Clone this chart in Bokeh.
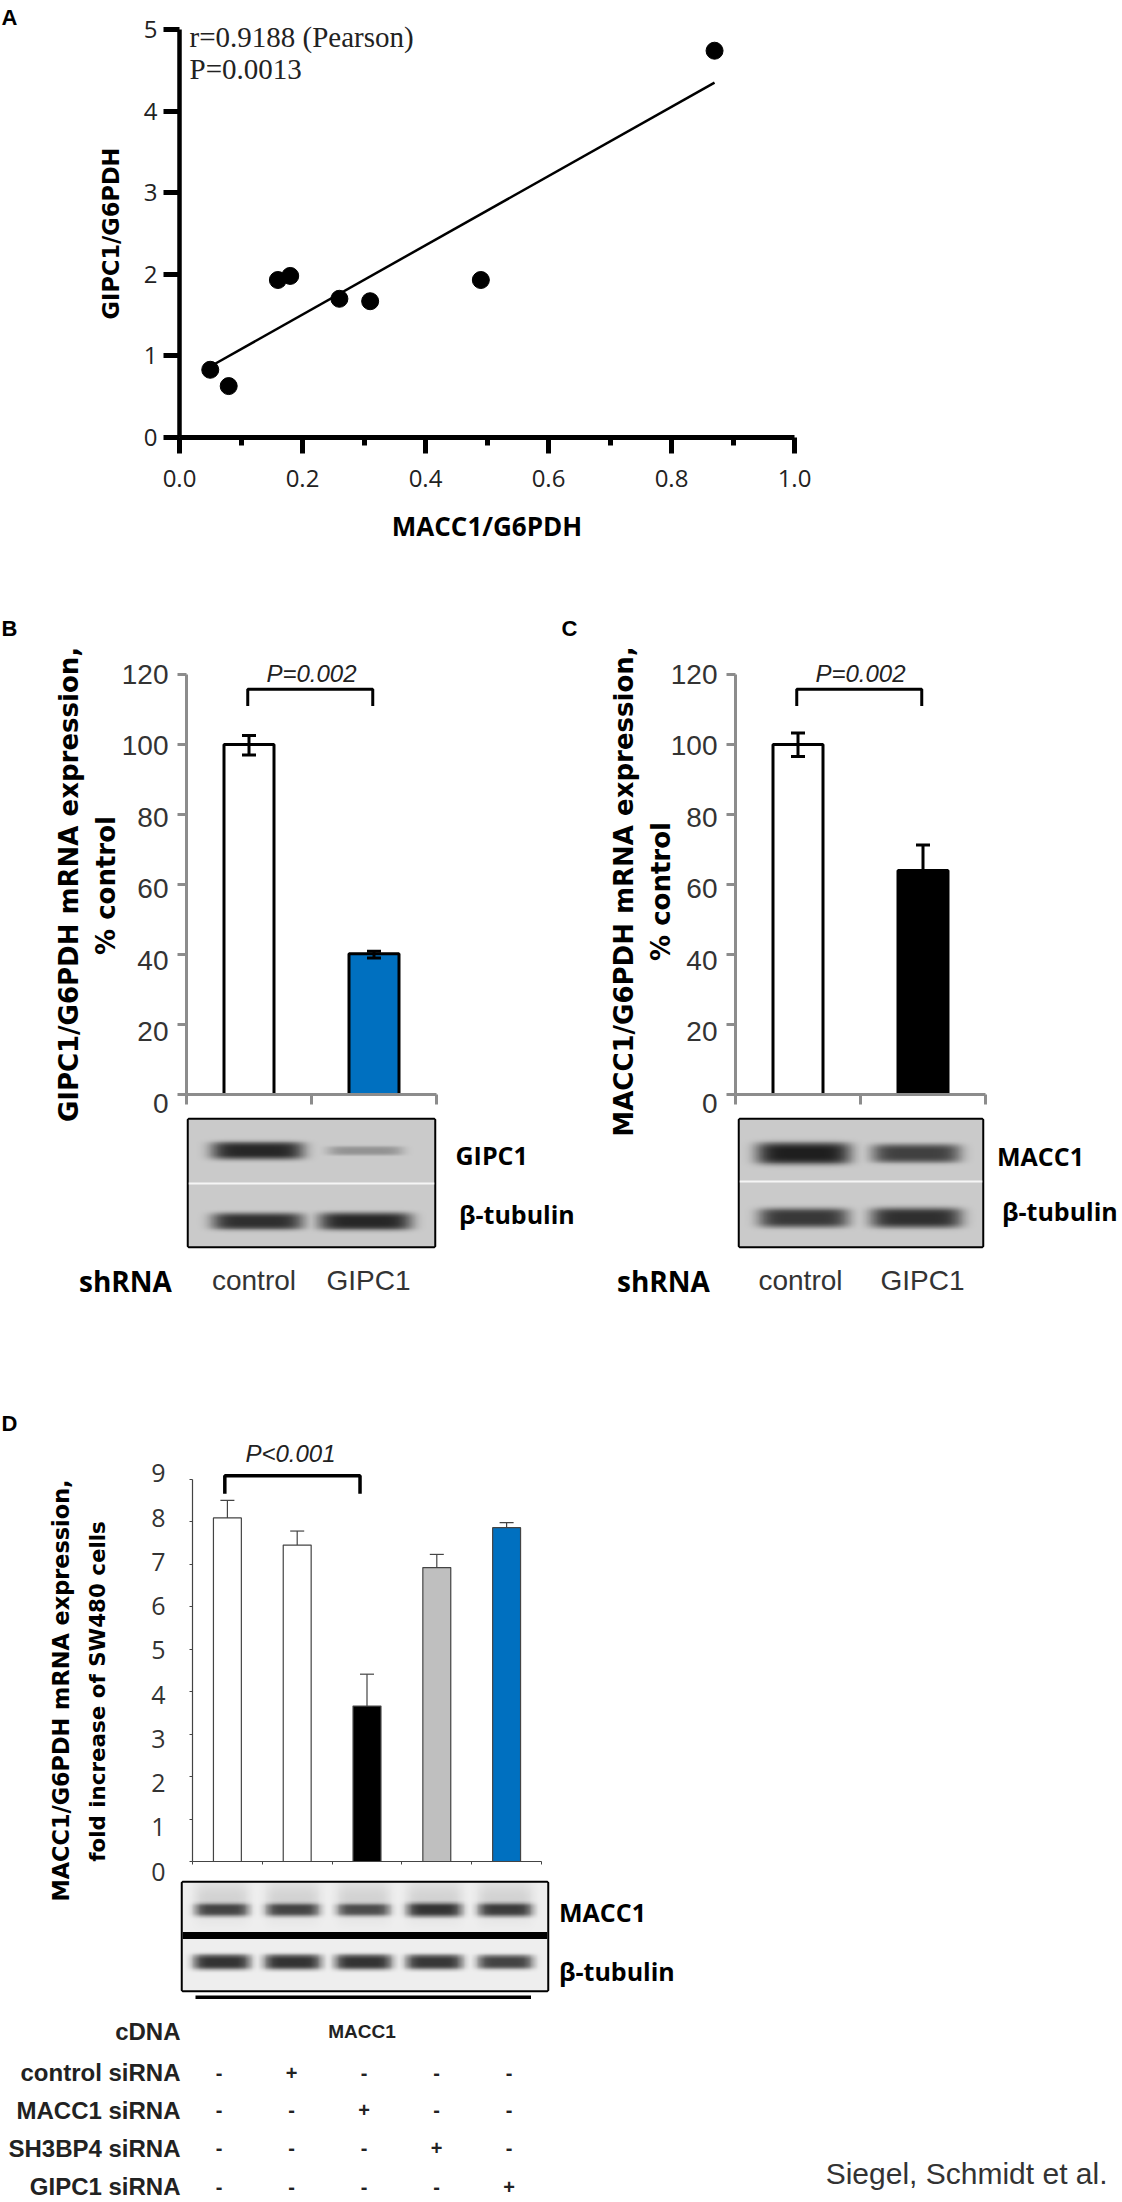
from bokeh.plotting import figure
from bokeh.layouts import column, row
from bokeh.models import Range1d, Whisker, TeeHead, ColumnDataSource, FixedTicker, LinearColorMapper, LinearAxis
from bokeh.core.properties import value
from bokeh.palettes import gray
from bokeh.embed import file_html
from bokeh.resources import INLINE
import numpy as np
import math

# panel A
macc1 = [0.05, 0.08, 0.16, 0.18, 0.26, 0.31, 0.49, 0.87]
gipc1 = [0.83, 0.63, 1.93, 1.98, 1.70, 1.67, 1.93, 4.74]
fit_x = [0.05, 0.87]
fit_y = [0.87, 4.35]

# panels B and C
pct_ticks = [0, 20, 40, 60, 80, 100, 120]
b_values = [100, 40.2]
b_upper = [102.6, 40.9]
b_lower = [97, 39]
c_values = [100, 64]
c_upper = [103.3, 71.3]
c_lower = [96.6, 64]

# panel D
fold_ticks = [0, 1, 2, 3, 4, 5, 6, 7, 8, 9]
d_values = [8.09, 7.45, 3.66, 6.92, 7.86]
d_upper = [8.5, 7.78, 4.41, 7.23, 7.98]
d_colors = ["white", "white", "black", "#bfbfbf", "#0070c0"]
row_names = ["control siRNA", "MACC1 siRNA", "SH3BP4 siRNA", "GIPC1 siRNA"]
row_marks = [
    ["-", "+", "-", "-", "-"],
    ["-", "-", "+", "-", "-"],
    ["-", "-", "-", "+", "-"],
    ["-", "-", "-", "-", "+"],
]

# band strength per lane
blot_b = [[0.95, 0.32], [0.9, 0.95]]
blot_c = [[1.0, 0.8], [0.85, 0.9]]
blot_d = [[0.72, 0.72, 0.68, 0.8, 0.76], [0.9, 0.9, 0.9, 0.88, 0.82]]

black = "black"
grey_axis = "#8c8c8c"
dark = "#444444"

# everything that is plain text sits on one see-through figure over the page,
# its scale is the picture's own pixels
over = figure(width=1122, height=2202, output_backend="svg", toolbar_location=None,
              x_range=Range1d(0, 1122), y_range=Range1d(2202, 0),
              x_axis_location=None, y_axis_location=None, frame_align=False,
              min_border_left=0, min_border_right=0, min_border_top=0, min_border_bottom=0,
              background_fill_color=None, border_fill_color=None, margin=(-1994, 0, 0, 0))
over.grid.visible = False
over.outline_line_color = None


def note(x, y, txt, size, font="Open Sans", style="bold", align="left", angle=0, color="black"):
    over.text([x], [y], text=[txt], text_font=value(font), text_font_size=f"{size}px",
              text_font_style=style, text_align=align, text_baseline="middle",
              text_color=color, angle=angle)


def label_axis(p, start, end, ticks, standoff, font, size):
    # tick labels of the original drift from their ticks, so they get their own scale
    p.extra_y_ranges["labels"] = Range1d(start, end)
    ax = LinearAxis(y_range_name="labels", ticker=FixedTicker(ticks=ticks))
    ax.axis_line_color = None
    ax.major_tick_line_color = None
    ax.minor_tick_line_color = None
    ax.major_tick_out = 0
    ax.major_tick_in = 0
    ax.major_label_standoff = standoff
    ax.major_label_text_font = font
    ax.major_label_text_font_size = size
    ax.major_label_text_color = "#333333"
    p.add_layout(ax, "left")


def blot_picture(strengths, x_start, x_end, y_start, y_end, half_w, half_h, base, halo):
    nx, ny = 420, 200
    xs = np.linspace(x_start, x_end, nx)
    ys = np.linspace(y_start, y_end, ny)
    gx, gy = np.meshgrid(xs, ys)
    bands = np.zeros((ny, nx))
    glow = np.zeros((ny, nx))
    for r, lanes in enumerate(strengths):
        for k, s in enumerate(lanes):
            across = np.exp(-((gx - k) / (half_w * (0.7 + 0.3 * s))) ** 6)
            band = across * np.exp(-((gy - r) / (half_h * (0.25 + 0.75 * s))) ** 4)
            bands = np.maximum(bands, band * s * (base - 30))
            if r == 0:
                glow = np.maximum(glow, halo * across * np.exp(-((gy - r + 0.2) / 0.35) ** 2))
    return np.clip(base - glow - bands, 0, 255)


def blot_figure(w, h, left, right, top, bottom, x_range, y_range, strengths, half_w, half_h, base=202, halo=0):
    p = figure(width=w, height=h, output_backend="svg", toolbar_location=None,
               x_range=x_range, y_range=y_range, x_axis_location=None, y_axis_location=None,
               frame_align=False,
               min_border_left=left, min_border_right=right, min_border_top=top, min_border_bottom=bottom)
    p.grid.visible = False
    p.outline_line_color = black
    p.outline_line_width = 3.5
    x0, x1 = x_range.start, x_range.end
    y0, y1 = min(y_range.start, y_range.end), max(y_range.start, y_range.end)
    img = blot_picture(strengths, x0, x1, y0, y1, half_w, half_h, base, halo)
    mapper = LinearColorMapper(palette=gray(256), low=0, high=255)
    p.image(image=[img], x=x0, y=y0, dw=x1 - x0, dh=y1 - y0, color_mapper=mapper)
    return p


def pct_figure(w, left, right, values, upper, lower, colors):
    p = figure(width=w, height=488, output_backend="svg", toolbar_location=None,
               x_range=Range1d(0, 2), y_range=Range1d(0, 120), frame_align=False,
               min_border_left=left, min_border_right=right, min_border_top=54, min_border_bottom=14)
    p.grid.visible = False
    p.outline_line_color = None
    p.xaxis.ticker = FixedTicker(ticks=[0, 1, 2])
    p.xaxis.major_label_overrides = {0: "", 1: "", 2: ""}
    p.yaxis.ticker = FixedTicker(ticks=pct_ticks)
    p.yaxis.major_label_overrides = {k: "" for k in pct_ticks}
    p.xaxis.major_label_standoff = 0
    p.yaxis.major_label_standoff = 0
    for ax in (p.xaxis, p.yaxis):
        ax.axis_line_color = grey_axis
        ax.axis_line_width = 3
        ax.major_tick_line_color = grey_axis
        ax.major_tick_line_width = 3
        ax.minor_tick_line_color = None
    p.xaxis.major_tick_in = 0
    p.xaxis.major_tick_out = 10
    p.yaxis.major_tick_in = 0
    p.yaxis.major_tick_out = 9
    label_axis(p, 2.5, 120, pct_ticks[1:], 9, "Liberation Sans", "28px")
    centres = [0.5, 1.5]
    p.vbar(x=centres, top=values, width=0.4, fill_color=colors, line_color=black, line_width=3)
    src = ColumnDataSource(dict(x=centres, up=upper, lo=lower))
    p.add_layout(Whisker(source=src, base="x", upper="up", lower="lo", dimension="height",
                         level="overlay", line_color=black, line_width=3,
                         upper_head=TeeHead(size=14, line_color=black, line_width=3),
                         lower_head=TeeHead(size=14, line_color=black, line_width=3)))
    p.line([0.49, 0.49, 1.49, 1.49], [111, 115.8, 115.8, 111], line_color=black, line_width=3)
    return p


# ---- A
a = figure(width=1106, height=612, output_backend="svg", toolbar_location=None,
           x_range=Range1d(0, 1), y_range=Range1d(0, 5), frame_align=False,
           x_axis_label="MACC1/G6PDH", y_axis_label="GIPC1/G6PDH",
           min_border_left=171, min_border_right=320, min_border_top=21, min_border_bottom=183)
a.grid.visible = False
a.outline_line_color = None
a.xaxis.ticker = FixedTicker(ticks=[0, 0.2, 0.4, 0.6, 0.8, 1.0], minor_ticks=[0.1, 0.3, 0.5, 0.7, 0.9])
a.yaxis.ticker = FixedTicker(ticks=[0, 1, 2, 3, 4, 5])
a.xaxis.major_label_overrides = {0: "0.0", 0.2: "0.2", 0.4: "0.4", 0.6: "0.6", 0.8: "0.8", 1: "1.0"}
a.xaxis.axis_line_width = 5
a.yaxis.axis_line_width = 4.5
a.xaxis.major_tick_line_width = 5
a.xaxis.major_tick_out = 16
a.xaxis.major_tick_in = 0
a.xaxis.minor_tick_line_width = 5
a.xaxis.minor_tick_out = 8
a.xaxis.minor_tick_in = 0
a.yaxis.major_tick_line_width = 5
a.yaxis.major_tick_out = 16
a.yaxis.major_tick_in = 0
a.yaxis.minor_tick_line_color = None
for ax in (a.xaxis, a.yaxis):
    ax.axis_line_color = black
    ax.major_tick_line_color = black
    ax.major_label_text_font = "Open Sans"
    ax.major_label_text_font_size = "24px"
    ax.major_label_text_color = "#222222"
    ax.axis_label_text_font_style = "bold"
    ax.axis_label_text_color = black
a.xaxis.minor_tick_line_color = black
a.xaxis.major_label_standoff = 16
a.yaxis.major_label_standoff = 6
a.xaxis.axis_label_text_font = "Open Sans"
a.xaxis.axis_label_text_font_size = "26px"
a.xaxis.axis_label_standoff = 18
a.yaxis.axis_label_text_font = "DejaVu Sans"
a.yaxis.axis_label_text_font_size = "22.5px"
a.yaxis.axis_label_standoff = 17
a.line(fit_x, fit_y, line_color=black, line_width=2.5)
a.scatter(macc1, gipc1, size=17, fill_color=black, line_color=black)
note(189, 36.5, "r=0.9188 (Pearson)", 29, "Liberation Serif", "normal", color="#222222")
note(189, 68, "P=0.0013", 29, "Liberation Serif", "normal", color="#222222")
note(1, 16.5, "A", 22, "Liberation Sans")

# ---- B
b = pct_figure(552, 178, 124, b_values, b_upper, b_lower, ["white", "#0070c0"])
note(1, 627.5, "B", 22, "Liberation Sans")
note(68, 884, "GIPC1/G6PDH mRNA expression,", 26, "DejaVu Sans", align="center", angle=math.pi / 2)
note(105.5, 885, "% control", 26, "DejaVu Sans", align="center", angle=math.pi / 2)
note(311, 673, "P=0.002", 24, "Liberation Sans", "italic", "center", color="#222222")
note(168, 1103, "0", 28, "Liberation Sans", "normal", "right", color="#333333")

blot_b_fig = blot_figure(552, 192, 180, 126, 11, 54, Range1d(-0.639, 1.639), Range1d(1.352, -0.437),
                         blot_b, 0.44, 0.13)
blot_b_fig.hspan(y=[0.46], line_color="#f5f5f5", line_width=2)
note(455, 1154, "GIPC1", 25)
note(458.5, 1213, "\u03b2-tubulin", 25)
note(78.5, 1280, "shRNA", 28)
note(253.5, 1280, "control", 28, "Liberation Sans", "normal", "center", color="#333333")
note(368, 1280, "GIPC1", 28, "Liberation Sans", "normal", "center", color="#333333")

# ---- C
c = pct_figure(554, 175, 129, c_values, c_upper, c_lower, ["white", "black"])
note(561, 627.5, "C", 22, "Liberation Sans")
note(623, 891, "MACC1/G6PDH mRNA expression,", 26, "DejaVu Sans", align="center", angle=math.pi / 2)
note(660.5, 891, "% control", 26, "DejaVu Sans", align="center", angle=math.pi / 2)
note(860, 673, "P=0.002", 24, "Liberation Sans", "italic", "center", color="#222222")
note(717, 1103, "0", 28, "Liberation Sans", "normal", "right", color="#333333")

blot_c_fig = blot_figure(554, 192, 179, 132, 11, 54, Range1d(-0.566, 1.584), Range1d(1.44, -0.522),
                         blot_c, 0.42, 0.17)
blot_c_fig.hspan(y=[0.436], line_color="#f5f5f5", line_width=2)
note(996.5, 1155, "MACC1", 25)
note(1001.5, 1210, "\u03b2-tubulin", 25)
note(616.5, 1280, "shRNA", 28)
note(800, 1280, "control", 28, "Liberation Sans", "normal", "center", color="#333333")
note(922, 1280, "GIPC1", 28, "Liberation Sans", "normal", "center", color="#333333")

# ---- D
d = figure(width=1106, height=570, output_backend="svg", toolbar_location=None,
           x_range=Range1d(0, 5), y_range=Range1d(0, 9.7), frame_align=False,
           min_border_left=184, min_border_right=573, min_border_top=149, min_border_bottom=9)
d.grid.visible = False
d.outline_line_color = None
d.yaxis.bounds = (0, 9)
d.xaxis.ticker = FixedTicker(ticks=[0, 1, 2, 3, 4, 5])
d.xaxis.major_label_overrides = {0: "", 1: "", 2: "", 3: "", 4: "", 5: ""}
d.yaxis.ticker = FixedTicker(ticks=fold_ticks)
d.yaxis.major_label_overrides = {k: "" for k in fold_ticks}
d.xaxis.major_label_standoff = 0
d.yaxis.major_label_standoff = 0
for ax in (d.xaxis, d.yaxis):
    ax.axis_line_color = dark
    ax.axis_line_width = 1.2
    ax.major_tick_line_color = dark
    ax.minor_tick_line_color = None
    ax.major_tick_in = 0
    ax.major_tick_out = 3
label_axis(d, 0.23, 9.54, fold_ticks[1:], 24, "Open Sans", "25px")
d_centres = [0.5, 1.5, 2.5, 3.5, 4.5]
d.vbar(x=d_centres, top=d_values, width=0.4, fill_color=d_colors, line_color=dark, line_width=1.2)
d_src = ColumnDataSource(dict(x=d_centres, up=d_upper, lo=d_values))
d.add_layout(Whisker(source=d_src, base="x", upper="up", lower="lo", dimension="height", level="overlay",
                     line_color=dark, line_width=1.2,
                     upper_head=TeeHead(size=14, line_color=dark, line_width=1.2),
                     lower_head=None))
d.line([0.463, 0.463, 2.4, 2.4], [8.66, 9.08, 9.08, 8.66], line_color=black, line_width=3.5)
note(290, 1453, "P<0.001", 24, "Liberation Sans", "italic", "center", color="#222222")
note(1, 1423, "D", 22, "Liberation Sans")
note(60.5, 1690, "MACC1/G6PDH mRNA expression,", 22.4, "DejaVu Sans", align="center", angle=math.pi / 2)
note(96.5, 1691, "fold increase of SW480 cells", 21.4, "DejaVu Sans", align="center", angle=math.pi / 2)
note(165, 1871, "0", 25, "Open Sans", "normal", "right", color="#333333")

blot_d_fig = blot_figure(1106, 124, 174, 567, 12, 4, Range1d(-0.55, 4.59), Range1d(1.54, -0.52),
                         blot_d, 0.42, 0.16, base=238, halo=28)
blot_d_fig.hspan(y=[0.485], line_color=black, line_width=7)
note(558.5, 1911, "MACC1", 25)
note(558.5, 1970, "\u03b2-tubulin", 25)

# ---- table under D
over.line([195, 530.5], [1996.7, 1996.7], line_color=black, line_width=3.5)
table_y = [2030.5, 2072, 2109.5, 2147.5, 2186]
table_font = "Liberation Sans"
note(180, table_y[0], "cDNA", 24, table_font, align="right", color="#222222")
note(361.5, table_y[0], "MACC1", 19, table_font, align="center", color="#222222")
for r, name in enumerate(row_names):
    note(180, table_y[r + 1], name, 24, table_font, align="right", color="#222222")
    for k, m in enumerate(row_marks[r]):
        note(218.5 + 72.5 * k, table_y[r + 1], m, 20, table_font, align="center", color="#222222")
note(1107, 2173, "Siegel, Schmidt et al.", 30, "Liberation Sans", "normal", "right", color="#333333")

charts = column(a, row(column(b, blot_b_fig), column(c, blot_c_fig)), d, blot_d_fig, spacing=0, margin=(8, 0, 0, 8))
page = column(charts, over, spacing=0)
open("out.html", "w").write(file_html(page, INLINE))
